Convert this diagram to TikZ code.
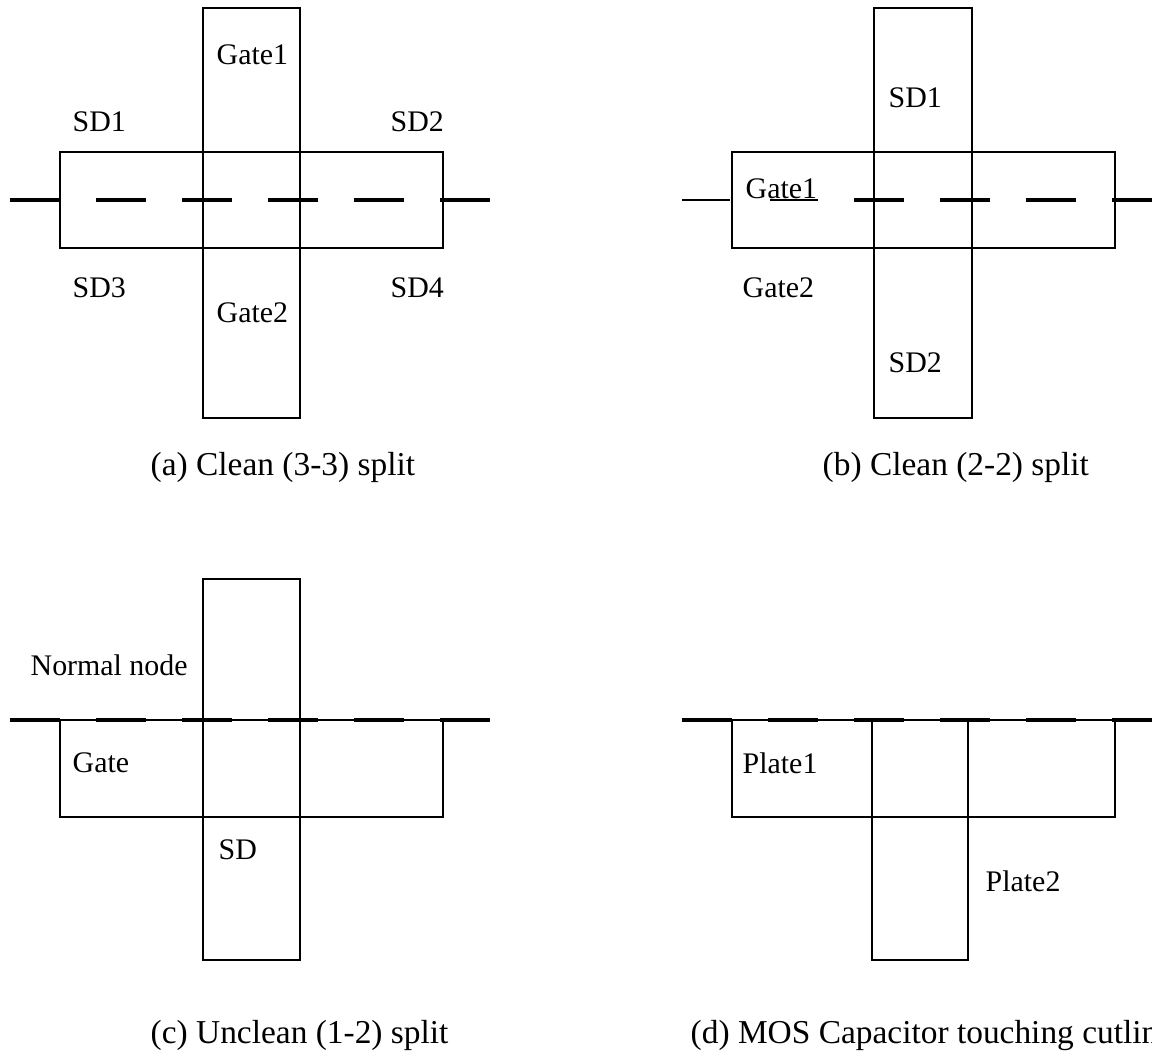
\documentclass[tikz,border=0pt]{standalone}
\usepackage{fontspec}
\setmainfont{Liberation Serif}
\begin{document}
\begin{tikzpicture}[x=0.01cm,y=-0.01cm,
    box/.style={line width=0.6pt},
    cutline/.style={line width=1.4pt, dash pattern=on 5mm off 3.6mm},
    lbl/.style={anchor=west, inner sep=0pt, font=\fontsize{8.5}{10}\selectfont},
    capt/.style={anchor=west, inner sep=0pt, font=\fontsize{9.5}{11}\selectfont}]
    \useasboundingbox (0,0) rectangle (1152,1063);
    \clip (0,0) rectangle (1152,1063);
    % (a) clean 3-3 split
    \draw[box] (60,152) rectangle (443,248);
    \draw[box] (203,8) rectangle (300,418);
    \draw[cutline] (10,200) -- (490,200);
    \node[lbl] (aGate1) at (216,55) {Gate1};
    \node[lbl] (aSD1) at (72,122) {SD1};
    \node[lbl] (aSD2) at (390,122) {SD2};
    \node[lbl] (aSD3) at (72,288) {SD3};
    \node[lbl] (aSD4) at (390,288) {SD4};
    \node[lbl] (aGate2) at (216,313) {Gate2};
    \node[capt] (aCapt) at (150,467) {(a) Clean (3-3) split};
    % (b) clean 2-2 split
    \draw[box] (732,152) rectangle (1115,248);
    \draw[box] (874,8) rectangle (972,418);
    \draw[line width=0.8pt] (682,200) -- (730,200) (770,200) -- (818,200); % thin dashes
    \draw[cutline] (854,200) -- (1160,200);
    \node[lbl] (bSD1) at (888,98) {SD1};
    \node[lbl] (bGate1) at (745,189) {Gate1};
    \node[lbl] (bGate2) at (742,288) {Gate2};
    \node[lbl] (bSD2) at (888,363) {SD2};
    \node[capt] (bCapt) at (822,467) {(b) Clean (2-2) split};
    % (c) unclean 1-2 split
    \draw[box] (60,720) rectangle (443,817);
    \draw[box] (203,579) rectangle (300,960);
    \draw[box] (10,720) -- (490,720);
    \draw[cutline] (10,720) -- (490,720);
    \node[lbl] (cNormal) at (30,665) {Normal node};
    \node[lbl] (cGate) at (72,763) {Gate};
    \node[lbl] (cSD) at (218,850) {SD};
    \node[capt] (cCapt) at (150,1035) {(c) Unclean (1-2) split};
    % (d) MOS capacitor
    \draw[box] (732,720) rectangle (1115,817);
    \draw[box] (872,720) rectangle (968,960);
    \draw[box] (682,720) -- (1160,720);
    \draw[cutline] (682,720) -- (1160,720);
    \node[lbl] (dPlate1) at (742,763) {Plate1};
    \node[lbl] (dPlate2) at (985,881) {Plate2};
    \node[capt] (dCapt) at (690,1035) {(d) MOS Capacitor touching cutline};
\end{tikzpicture}
\end{document}
